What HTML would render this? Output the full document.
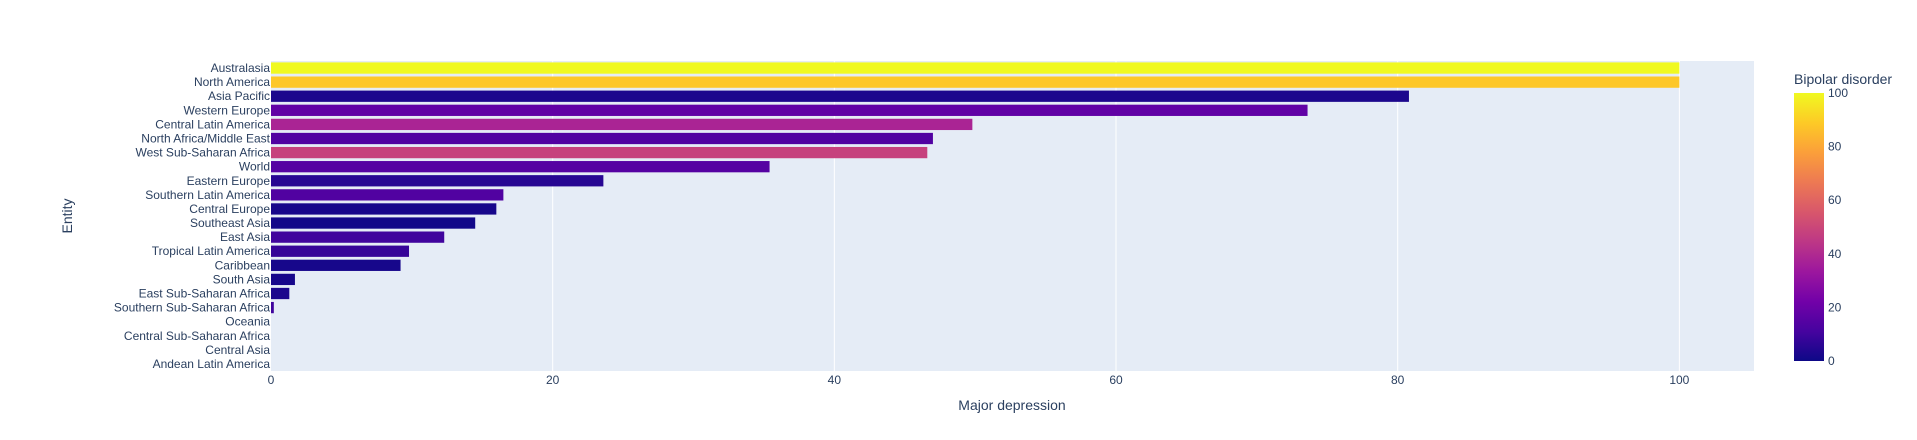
<!DOCTYPE html>
<html><head><meta charset="utf-8"><style>
body{margin:0;background:#fff;}
svg{display:block;font-family:"Liberation Sans",Arial,sans-serif;}
</style></head><body>
<svg id="chart" width="1917" height="440" xmlns="http://www.w3.org/2000/svg">
<defs><linearGradient id="plasma" x1="0" y1="1" x2="0" y2="0">
<stop offset="0" stop-color="#0d0887"/><stop offset="0.111" stop-color="#46039f"/><stop offset="0.222" stop-color="#7201a8"/><stop offset="0.333" stop-color="#9c179e"/><stop offset="0.444" stop-color="#bd3786"/><stop offset="0.556" stop-color="#d8576b"/><stop offset="0.667" stop-color="#ed7953"/><stop offset="0.778" stop-color="#fb9f3a"/><stop offset="0.889" stop-color="#fdca26"/><stop offset="1" stop-color="#f0f921"/>
</linearGradient></defs>
<rect x="271" y="61" width="1483" height="310" fill="#e5ecf6"/>
<g id="grid"></g><g id="bars"></g><g id="yt"></g><g id="xt"></g>
<text x="1012" y="410" text-anchor="middle" font-size="14" fill="#2a3f5f">Major depression</text>
<text transform="translate(72,216) rotate(-90)" text-anchor="middle" font-size="14" fill="#2a3f5f">Entity</text>
<text x="1794" y="84" font-size="14" fill="#2a3f5f">Bipolar disorder</text>
<rect x="1794" y="93" width="30" height="268" fill="url(#plasma)"/>
<g id="cb"></g>
</svg>
<script>
const categories=["Australasia","North America","Asia Pacific","Western Europe","Central Latin America","North Africa/Middle East","West Sub-Saharan Africa","World","Eastern Europe","Southern Latin America","Central Europe","Southeast Asia","East Asia","Tropical Latin America","Caribbean","South Asia","East Sub-Saharan Africa","Southern Sub-Saharan Africa","Oceania","Central Sub-Saharan Africa","Central Asia","Andean Latin America"];
const depression=[100,100,80.8,73.6,49.8,47,46.6,35.4,23.6,16.5,16,14.5,12.3,9.8,9.2,1.7,1.3,0.2,0,0,0,0];
const bipolar=[100,88,3,18,38,14,48,15,5,14,2,1,10,8,2,2,3,10,0,0,0,0];
const xTicks=[0,20,40,60,80,100];
const cbTicks=[0,20,40,60,80,100];
const NS="http://www.w3.org/2000/svg";
const px0=271,px1=1754,xmax=105.3,pTop=61,pBot=371;
const X=v=>px0+v/xmax*(px1-px0);
const band=(pBot-pTop)/categories.length;
const Y=i=>pTop+i*band;
const stops=["#0d0887","#46039f","#7201a8","#9c179e","#bd3786","#d8576b","#ed7953","#fb9f3a","#fdca26","#f0f921"];
function hex(h){return [1,3,5].map(i=>parseInt(h.substr(i,2),16));}
function color(v){let t=Math.max(0,Math.min(1,v/100))*(stops.length-1);let i=Math.min(Math.floor(t),stops.length-2),f=t-i;let a=hex(stops[i]),b=hex(stops[i+1]);return "rgb("+a.map((c,k)=>Math.round(c+(b[k]-c)*f)).join(",")+")";}
function mk(tag,attrs,parent,text){const e=document.createElementNS(NS,tag);for(const k in attrs)e.setAttribute(k,attrs[k]);if(text!==undefined)e.textContent=text;document.getElementById(parent).appendChild(e);return e;}
xTicks.forEach(t=>{
  if(t>0){const g=mk("line",{x1:X(t),x2:X(t),y1:pTop,y2:pBot,stroke:"#fff","stroke-width":1},"grid");
  
  }
  const l=mk("text",{x:X(t),y:384,"text-anchor":"middle","font-size":12,fill:"#2a3f5f"},"xt",String(t));
  
  
});
categories.forEach((c,i)=>{
  const w=X(depression[i])-px0;
  const r=mk("rect",{x:px0,y:Y(i)+band*0.1,width:Math.max(0,w),height:band*0.8,fill:color(bipolar[i])},"bars");
  
  
  const l=mk("text",{x:px0-1,y:Y(i)+band/2+4,"text-anchor":"end","font-size":12,fill:"#2a3f5f"},"yt",c);
  
  
});
cbTicks.forEach(t=>{
  const y=361-t/100*268;
  const l=mk("text",{x:1828,y:y+4,"font-size":12,fill:"#2a3f5f"},"cb",String(t));
  
  
});
</script>
</body></html>
